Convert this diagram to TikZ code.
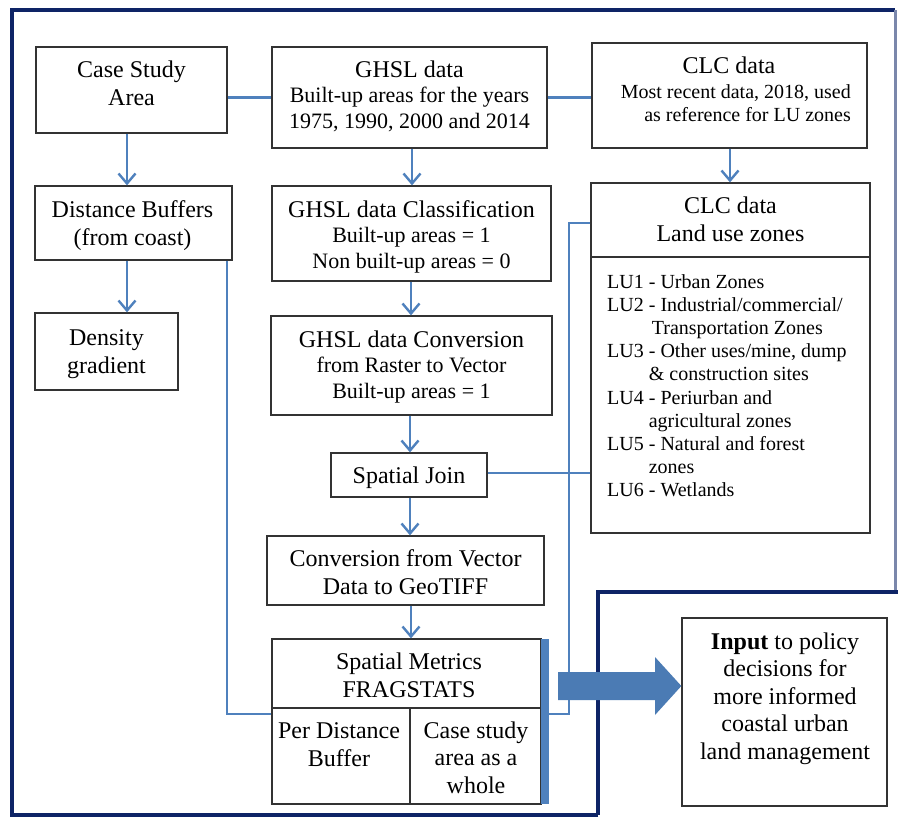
\documentclass[tikz,border=0pt]{standalone}
\usepackage{fontspec}
\setmainfont{Liberation Serif}
\usetikzlibrary{arrows.meta}
\definecolor{lnk}{RGB}{79,129,189}
\definecolor{navyc}{RGB}{14,36,102}
\newcommand\fT{\fontsize{24}{28}\selectfont}
\newcommand\fTi{\fontsize{24}{27.5}\selectfont}
\newcommand\fB{\fontsize{22}{25.5}\selectfont}
\newcommand\fS{\fontsize{20}{23}\selectfont}
\newcommand\fL{\fontsize{20}{23.2}\selectfont}
\newcommand\mlc[1]{\begin{tabular}[t]{@{}c@{}}#1\end{tabular}}
\begin{document}
\begin{tikzpicture}[x=1pt,y=-1pt,
  box/.style={draw=black!80, line width=1.3pt, inner sep=0pt},
  txt/.style={anchor=base, inner sep=0pt},
  link/.style={draw=lnk, line width=2.4pt},
  arr/.style={link, -{Straight Barb[length=10pt,width=17pt]}}]
\useasboundingbox (0,0) rectangle (898,817);
\fill[white] (0,0) rectangle (898,817);
% frame
\draw[navyc, line width=3.5pt, line join=miter] (598,815) -- (12,815) -- (12,10) -- (895,10);
\draw[navyc!55, line width=3pt] (895,10) -- (895,592);
\draw[navyc, line width=3.5pt] (898,592) -- (598,592) -- (598,815);

% boxes
\node[box, minimum width=191pt, minimum height=86pt]  (csa)  at (131.5,90) {};
\node[box, minimum width=275pt, minimum height=101pt] (ghsl) at (409.5,97.5) {};
\node[box, minimum width=275pt, minimum height=105pt] (clc)  at (729.5,95.5) {};
\node[box, minimum width=197pt, minimum height=74pt]  (db)   at (133.5,223) {};
\node[box, minimum width=279pt, minimum height=95pt]  (cls)  at (411.5,233.5) {};
\node[box, minimum width=279pt, minimum height=350pt] (clu)  at (730.5,358) {};
\node[box, minimum width=143pt, minimum height=77pt]  (dg)   at (106.5,351.5) {};
\node[box, minimum width=281pt, minimum height=99pt]  (conv) at (411.5,365.5) {};
\node[box, minimum width=156pt, minimum height=44pt]  (sj)   at (409,475) {};
\node[box, minimum width=277pt, minimum height=69pt]  (cv)   at (405.5,570.5) {};
\node[box, minimum width=269pt, minimum height=165pt] (sm)   at (406.5,721.5) {};
\node[box, minimum width=205pt, minimum height=188pt] (inp)  at (784.5,712) {};
\draw[black!80, line width=1.3pt] (clu.west |- 0,257) -- (clu.east |- 0,257);
\draw[black!80, line width=1.3pt] (sm.west |- 0,708) -- (sm.east |- 0,708);
\draw[black!80, line width=1.3pt] (410,708) -- (sm.south -| 410,0);
\fill[lnk] (541,639) rectangle (549,804);

% texts
\node[txt, font=\fT] (tcsa) at (131.5,77) {\mlc{Case Study\\Area}};
\node[txt, font=\fB] (tghsl) at (409.5,77) {\mlc{{\fT GHSL data}\\Built-up areas for the years\\1975, 1990, 2000 and 2014}};
\node[txt, font=\fT] (tclc) at (729,73) {CLC data};
\node[txt, font=\fS, anchor=base east] (tclcs) at (851,98) {\begin{tabular}[t]{@{}r@{}}Most recent data, 2018, used\\as reference for LU zones\end{tabular}};
\node[txt, font=\fT] (tdb) at (132.5,217) {\mlc{Distance Buffers\\(from coast)}};
\node[txt, font=\fB] (tcls) at (411.5,217) {\mlc{{\fT GHSL data Classification}\\Built-up areas = 1\\Non built-up areas = 0}};
\node[txt, font=\fT] (tdg) at (106.5,345) {\mlc{Density\\gradient}};
\node[txt, font=\fB] (tconv) at (411.5,347) {\mlc{{\fT GHSL data Conversion}\\from Raster to Vector\\Built-up areas = 1}};
\node[txt, font=\fT] (tsj) at (409,483) {Spatial Join};
\node[txt, font=\fT] (tcv) at (405.5,566) {\mlc{Conversion from Vector\\Data to GeoTIFF}};
\node[txt, font=\fT] (tclu) at (730.5,213) {\mlc{CLC data\\Land use zones}};
\node[txt, font=\fL, anchor=base west] (tlu) at (607,288) {\begin{tabular}[t]{@{}l@{\ }l@{}}
LU1 & - Urban Zones\\
LU2 & - Industrial/commercial/\\
    & \hspace{3pt}Transportation Zones\\
LU3 & - Other uses/mine, dump\\
    & \& construction sites\\
LU4 & - Periurban and\\
    & agricultural zones\\
LU5 & - Natural and forest\\
    & zones\\
LU6 & - Wetlands
\end{tabular}};
\node[txt, font=\fT] (tsm) at (409,669) {\mlc{Spatial Metrics\\FRAGSTATS}};
\node[txt, font=\fT] (tpdb) at (339,738) {\mlc{Per Distance\\Buffer}};
\node[txt, font=\fTi] (tcsw) at (476,738) {\mlc{Case study\\area as a\\whole}};
\node[txt, font=\fTi] (tinp) at (785,649) {\mlc{\textbf{Input} to policy\\decisions for\\more informed\\coastal urban\\land management}};

% connectors
\draw[link] (csa.east |- ghsl.west) -- (ghsl.west);
\draw[link] (ghsl.east) -- (clc.west |- ghsl.east);
\draw[arr] (csa.south -| 127,0) -- (db.north -| 127,0);
\draw[arr] (db.south -| 127,0) -- (dg.north -| 127,0);
\draw[arr] (ghsl.south -| 412,0) -- (cls.north -| 412,0);
\draw[arr] (clc.south -| 730,0) -- (clu.north -| 730,0);
\draw[arr] (cls.south -| 411,0) -- (conv.north -| 411,0);
\draw[arr] (conv.south -| 410,0) -- (sj.north -| 410,0);
\draw[arr] (sj.south -| 410,0) -- (cv.north -| 410,0);
\draw[arr] (cv.south -| 411,0) -- (sm.north -| 411,0);
\coordinate (c1) at (227,714);
\draw[link] (db.south -| c1) -- (c1) -- (sm.west |- c1);
\coordinate (c2) at (569,223);
\coordinate (c3) at (569,714);
\draw[link] (clu.west |- c2) -- (c2) -- (c3) -- (549,714);
\draw[link] (sj.east |- 0,473) -- (clu.west |- 0,473);

% big arrow
\fill[lnk!95!black] (558,672) -- (655,672) -- (655,657) -- (inp.west |- 0,686) -- (655,715) -- (655,700) -- (558,700) -- cycle;
\end{tikzpicture}
\end{document}
